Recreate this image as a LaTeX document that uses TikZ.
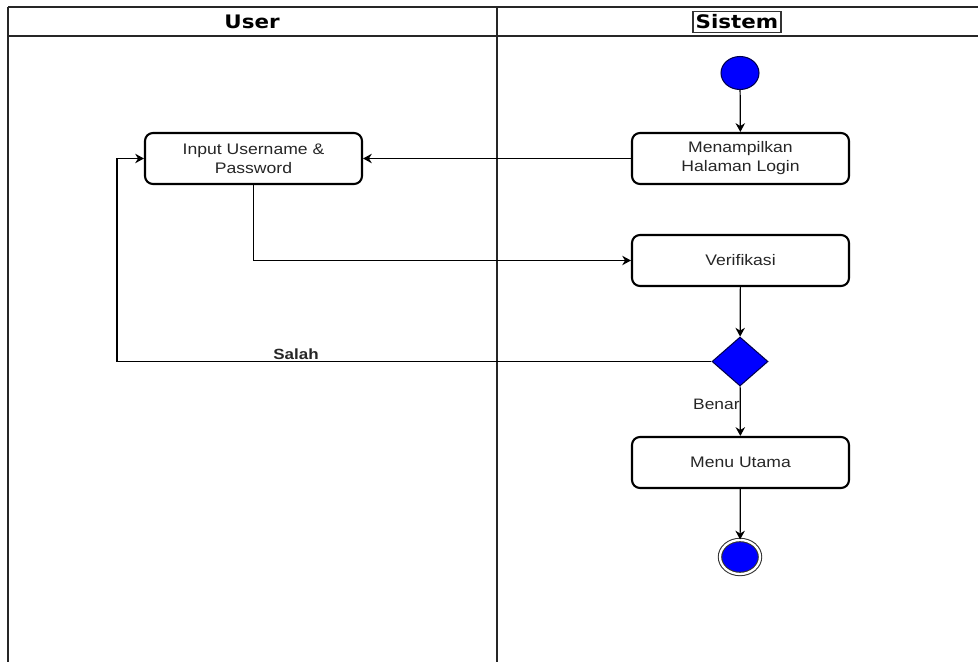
\documentclass[tikz,border=0pt]{standalone}
\usepackage{fontspec}
\setmainfont[FakeStretch=1.15]{Liberation Sans}
\newfontfamily\headfont[FakeStretch=1.15]{DejaVu Sans}
\usetikzlibrary{shapes.geometric,arrows.meta}

\definecolor{flowblue}{HTML}{0000FF}
\definecolor{edgenavy}{HTML}{00004D}

\tikzset{
  lane/.style={draw=black!85, line width=0.9pt},
  headtext/.style={font=\headfont\bfseries\fontsize{10.6}{12}\selectfont, text=black},
  actbox/.style={draw=black, line width=1.2pt, rounded corners=4.5pt, fill=white,
    minimum width=4.34cm, minimum height=1.02cm, align=center,
    font=\fontsize{8.7}{10.8}\selectfont, text=black!85},
  startdot/.style={ellipse, draw=edgenavy, line width=0.6pt, fill=flowblue,
    minimum width=0.76cm, minimum height=0.66cm, inner sep=0pt},
  enddot/.style={ellipse, draw=black!80, line width=0.6pt, fill=flowblue,
    double=white, double distance=1.3pt,
    minimum width=0.8cm, minimum height=0.68cm, inner sep=0pt},
  choice/.style={diamond, draw=edgenavy, line width=0.6pt, fill=flowblue,
    minimum width=1.12cm, minimum height=0.98cm, inner sep=0pt},
  flow/.style={draw=black, line width=0.7pt, ->},
  edgetext/.style={font=\fontsize{8.6}{10}\selectfont, text=black!85, inner sep=1pt}
}

\begin{document}
\begin{tikzpicture}[x=0.02cm, y=-0.02cm, >={Stealth[length=5pt, width=5.4pt]}]

  \useasboundingbox (0,0) rectangle (978,662);

  % -- Swimlanes --
  \draw[lane] (8,7) -- (978,7);
  \draw[lane] (8,36) -- (978,36);
  \draw[lane] (8,7) -- (8,662);
  \draw[lane] (497,7) -- (497,662);
  \node[headtext] (user) at (252,22) {User};
  \node[headtext, draw=black!80, line width=0.7pt, inner xsep=1.5pt, inner ysep=2pt] (sistem) at (737,22) {Sistem};

  % -- Start --
  \node[startdot] (start) at (740,73) {};

  % -- Activities --
  \node[actbox] (login) at (740.5,158.5) {Menampilkan\\Halaman Login};
  \node[actbox] (input) at (253.5,158.5) {Input Username \&\\Password};
  \node[actbox] (verif) at (740.5,260.5) {Verifikasi};
  \node[choice] (cek) at (740,361.5) {};
  \node[actbox] (menu) at (740.5,462.5) {Menu Utama};

  % -- End --
  \node[enddot] (stop) at (740,557) {};

  % -- Flows --
  \draw[flow] (start) -- (login);
  \draw[flow] (login) -- (input);
  \draw[flow] (input.south) |- (verif.west);
  \draw[flow] (verif) -- (cek);
  \coordinate (back) at (117,361.5);
  \draw[flow] (cek.west) -- (back) |- (input.west);
  \node[edgetext, font=\bfseries\fontsize{8.4}{10}\selectfont] (salah) at (296,354) {Salah};
  \draw[flow] (cek) -- (menu)
    node[edgetext, pos=0.37, anchor=east, inner sep=0pt] (benar) {Benar};
  \draw[flow] (menu) -- (stop);

\end{tikzpicture}
\end{document}
